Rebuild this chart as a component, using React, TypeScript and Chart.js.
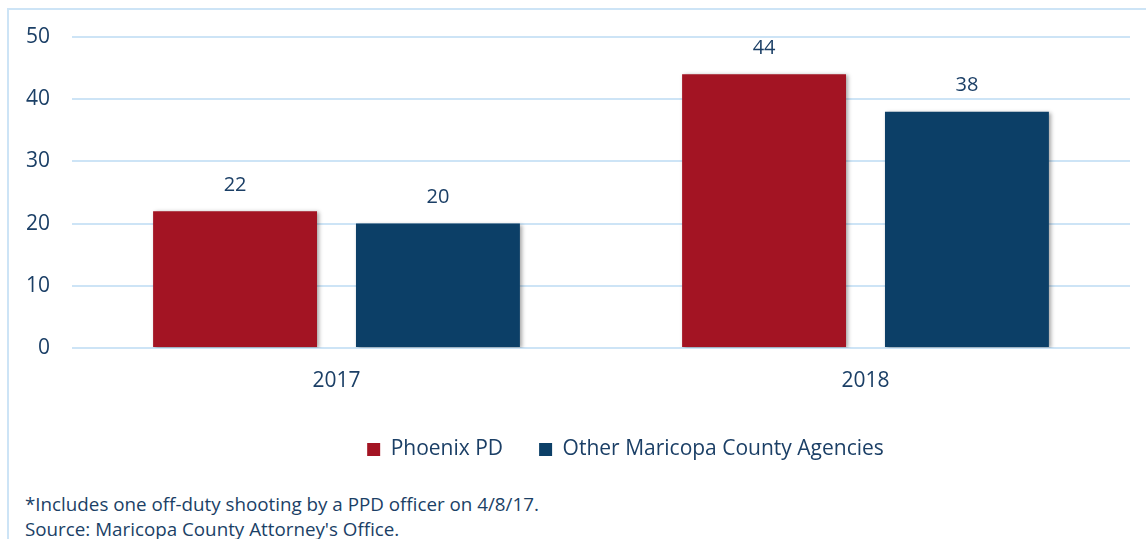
import React, { useEffect, useRef } from "react";
import { Chart, registerables } from "chart.js";

Chart.register(...registerables);

const categories = ["2017", "2018"];
const phoenixPD = [22, 44];
const otherAgencies = [20, 38];
const yTicks = [0, 10, 20, 30, 40, 50];
const footnotes = [
  "*Includes one off-duty shooting by a PPD officer on 4/8/17.",
  "Source: Maricopa County Attorney's Office.",
];

const FONT = "'Open Sans', sans-serif";
const TEXT = "#1b3f66";
const GRID = "#cde4f6";
const RED = "#a31423";
const BLUE = "#0c3f67";
const LEGEND_SHIFT = 56;

const shadowPlugin = {
  id: "barShadow",
  beforeDatasetsDraw(chart: any) {
    const ctx = chart.ctx;
    ctx.save();
    ctx.shadowColor = "rgba(0,0,0,0.35)";
    ctx.shadowBlur = 4;
    ctx.shadowOffsetX = 2;
    ctx.shadowOffsetY = 1;
  },
  afterDatasetsDraw(chart: any) {
    chart.ctx.restore();
  },
};

const legendShift = {
  id: "legendShift",
  afterLayout(chart: any) {
    const lg = chart.legend;
    if (lg) {
      lg.left += LEGEND_SHIFT;
      lg.right += LEGEND_SHIFT;
    }
  },
};

const valueLabels = {
  id: "valueLabels",
  afterDraw(chart: any) {
    const ctx = chart.ctx;
    ctx.save();
    ctx.fillStyle = TEXT;
    ctx.font = `20px ${FONT}`;
    ctx.textAlign = "center";
    ctx.textBaseline = "middle";
    chart.data.datasets.forEach((ds: any, i: number) => {
      const meta = chart.getDatasetMeta(i);
      meta.data.forEach((bar: any, j: number) => {
        ctx.fillText(String(ds.data[j]), bar.x, bar.y - 26);
      });
    });
    ctx.restore();
  },
};

export default function App() {
  const ref = useRef<HTMLCanvasElement>(null);

  useEffect(() => {
    document.body.style.overflow = "hidden";
    document.documentElement.style.overflow = "hidden";
    const chart = new Chart(ref.current!, {
      type: "bar",
      data: {
        labels: categories,
        datasets: [
          {
            label: "Phoenix PD",
            data: phoenixPD,
            backgroundColor: RED,
            barPercentage: 0.808,
            categoryPercentage: 0.767,
          },
          {
            label: "Other Maricopa County Agencies",
            data: otherAgencies,
            backgroundColor: BLUE,
            barPercentage: 0.808,
            categoryPercentage: 0.767,
          },
        ],
      },
      options: {
        animation: false,
        responsive: false,
        maintainAspectRatio: false,
        layout: { padding: { left: 0, right: 16, top: 27, bottom: 10 } },
        plugins: {
          legend: {
            position: "bottom",
            labels: {
              boxWidth: 13,
              boxHeight: 13,
              padding: 36,
              color: TEXT,
              font: { family: FONT, size: 21 },
            },
          },
          tooltip: { enabled: false },
        },
        scales: {
          x: {
            grid: { display: false, drawTicks: false },
            border: { display: false },
            afterFit(scale: any) {
              scale.height = 55;
            },
            ticks: {
              color: TEXT,
              font: { family: FONT, size: 21 },
              padding: 20,
            },
          },
          y: {
            min: 0,
            max: 50,
            afterFit(scale: any) {
              scale.width = 63;
              scale.paddingTop = 0;
              scale.paddingBottom = 0;
            },
            afterBuildTicks(scale: any) {
              scale.ticks = yTicks.map((v) => ({ value: v }));
            },
            grid: { color: GRID, lineWidth: 2, drawTicks: false },
            border: { display: false },
            ticks: {
              color: TEXT,
              font: { family: FONT, size: 21 },
              padding: 22,
            },
          },
        },
      },
      plugins: [shadowPlugin, valueLabels, legendShift],
    });
    return () => chart.destroy();
  }, []);

  return (
    <div
      style={{
        position: "absolute",
        left: 7,
        top: 8,
        width: 1160,
        height: 560,
        borderTop: `2px solid ${GRID}`,
        borderLeft: `2px solid ${GRID}`,
        boxSizing: "border-box",
      }}
    >
      <canvas ref={ref} width={1137} height={470} style={{ display: "block" }} />
      <div
        style={{
          position: "absolute",
          left: 16,
          top: 482,
          fontFamily: FONT,
          fontSize: 18.8,
          color: TEXT,
          lineHeight: "25px",
        }}
      >
        {footnotes.map((t) => (
          <div key={t}>{t}</div>
        ))}
      </div>
    </div>
  );
}
